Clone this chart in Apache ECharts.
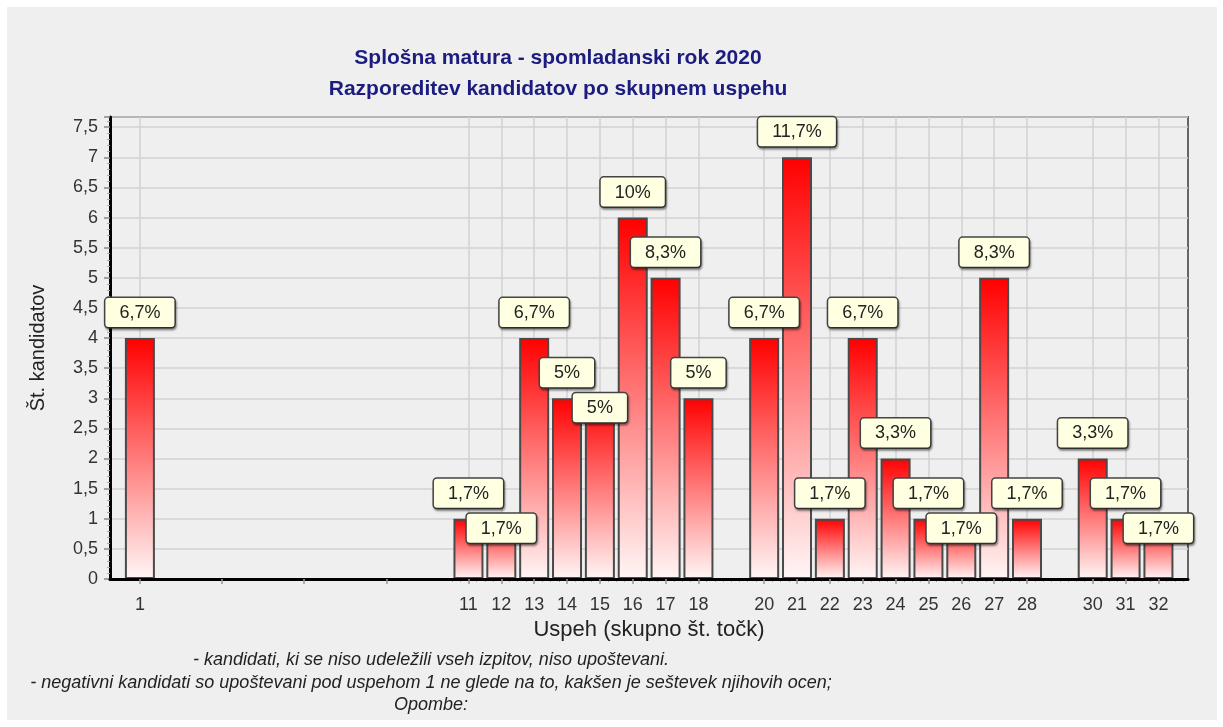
<!DOCTYPE html>
<html>
<head>
<meta charset="utf-8">
<script src="https://cdn.jsdelivr.net/npm/echarts@6/dist/echarts.min.js"></script>
<style>
html,body{margin:0;padding:0;background:#fff;}
#chart{width:1223px;height:727px;}
</style>
</head>
<body>
<div id="chart"></div>
<script>
// ---- data ----
const titleLines = ['Splošna matura - spomladanski rok 2020', 'Razporeditev kandidatov po skupnem uspehu'];
const xName = 'Uspeh (skupno št. točk)';
const yName = 'Št. kandidatov';
const uspeh = [1, 11, 12, 13, 14, 15, 16, 17, 18, 20, 21, 22, 23, 24, 25, 26, 27, 28, 30, 31, 32];
const kandidati = [4, 1, 1, 4, 3, 3, 6, 5, 3, 4, 7, 1, 4, 2, 1, 1, 5, 1, 2, 1, 1];
const extraTicks = [3.5, 6, 8.5];
const notes = [
  '- kandidati, ki se niso udeležili vseh izpitov, niso upoštevani.',
  '- negativni kandidati so upoštevani pod uspehom 1 ne glede na to, kakšen je seštevek njihovih ocen;',
  'Opombe:'
];

const FONT = 'Arial, "Liberation Sans", sans-serif';
const total = kandidati.reduce((a, b) => a + b, 0);
function pct(v) {
  let s = (v / total * 100).toFixed(1);
  if (s.endsWith('.0')) s = s.slice(0, -2);
  return s.replace('.', ',') + '%';
}

// label collision: shift label down if same value as immediately preceding bar (and that one not shifted)
const shifted = [];
const barData = uspeh.map((x, i) => {
  let sh = false;
  if (i > 0 && uspeh[i - 1] === x - 1 && kandidati[i - 1] === kandidati[i] && !shifted[i - 1]) sh = true;
  shifted.push(sh);
  const item = { value: [x, kandidati[i]] };
  if (sh) item.label = { offset: [0, 35] };
  return item;
});

const minorTicks = [];
for (let t = 10.5; t <= 32.8; t += 0.25) minorTicks.push(+t.toFixed(2));

const XMIN = 0.09, XMAX = 32.9;

const chart = echarts.init(document.getElementById('chart'));
chart.setOption({
  backgroundColor: '#ffffff',
  animation: false,
  textStyle: { fontFamily: FONT },
  graphic: [
    { type: 'rect', z: -10, shape: { x: 7, y: 7, width: 1210, height: 713 }, style: { fill: '#efefef' } },
    ...notes.map((t, i) => ({
      type: 'text', x: 431, y: 660 + i * 22.5, z: 10,
      style: { text: t, font: 'italic 18px ' + FONT, fill: '#222', textAlign: 'center', textVerticalAlign: 'middle' }
    }))
  ],
  title: {
    text: titleLines.join('\n'),
    left: 553, top: 38, textAlign: 'center',
    textStyle: { fontSize: 21, fontWeight: 'bold', color: '#1c1c80', lineHeight: 31, fontFamily: FONT }
  },
  grid: {
    left: 110, right: 35, top: 117, bottom: 148,
    show: true, borderColor: '#666', borderWidth: 2, backgroundColor: 'transparent',
    containLabel: false
  },
  xAxis: [{
    type: 'value', min: XMIN, max: XMAX, z: 5,
    name: xName, nameLocation: 'middle', nameGap: 37,
    nameTextStyle: { fontSize: 22, color: '#222', fontFamily: FONT },
    axisLine: { show: true, onZero: false, lineStyle: { color: '#000', width: 3 } },
    axisTick: { show: true, customValues: uspeh.concat(extraTicks), length: 5, lineStyle: { color: '#999', width: 1.5 } },
    axisLabel: { customValues: uspeh, margin: 17, fontSize: 18, color: '#333', fontFamily: FONT },
    splitLine: { show: false }
  }, {
    type: 'value', min: XMIN, max: XMAX, position: 'bottom',
    axisLine: { show: false },
    axisTick: { show: true, customValues: minorTicks, length: 3, lineStyle: { color: '#aaa', width: 1 } },
    axisLabel: { show: false },
    splitLine: { show: false }
  }, {
    type: 'value', min: XMIN, max: XMAX, position: 'bottom',
    axisLine: { show: false },
    axisTick: { show: false, customValues: uspeh },
    axisLabel: { show: false },
    splitLine: { show: true, lineStyle: { color: '#d2d2d2', width: 1.5 } }
  }],
  yAxis: {
    type: 'value', min: 0, max: 7.67, interval: 0.5,
    name: yName, nameLocation: 'middle', nameGap: 62,
    nameTextStyle: { fontSize: 20, color: '#222', fontFamily: FONT },
    axisLine: { show: true, lineStyle: { color: '#000', width: 3 } },
    axisTick: { show: true, length: 6, lineStyle: { color: '#888', width: 1.5 } },
    minorTick: { show: true, splitNumber: 5, length: 3, lineStyle: { color: '#aaa' } },
    axisLabel: {
      margin: 12, fontSize: 18, color: '#333', fontFamily: FONT, showMaxLabel: true,
      formatter: v => (Math.abs(v * 2 - Math.round(v * 2)) < 1e-6 ? String(v).replace('.', ',') : '')
    },
    splitLine: { show: true, lineStyle: { color: '#d2d2d2', width: 1.5 } }
  },
  series: [{
    type: 'bar', z: 3, barWidth: 30,
    data: barData,
    itemStyle: {
      color: new echarts.graphic.LinearGradient(0, 0, 0, 1, [
        { offset: 0, color: '#ff0000' },
        { offset: 1, color: '#fff6f6' }
      ]),
      borderColor: '#4a4a4a', borderWidth: 2
    },
    label: {
      show: true, position: 'top', distance: 11,
      formatter: p => pct(p.value[1]),
      fontSize: 18, lineHeight: 18, color: '#222', fontFamily: FONT,
      backgroundColor: '#ffffe1', borderColor: '#444', borderWidth: 1.5, borderRadius: 3,
      padding: [6, 14, 5, 14],
      shadowColor: 'rgba(0,0,0,0.35)', shadowBlur: 2, shadowOffsetX: 1, shadowOffsetY: 2
    }
  }]
});
</script>
</body>
</html>
